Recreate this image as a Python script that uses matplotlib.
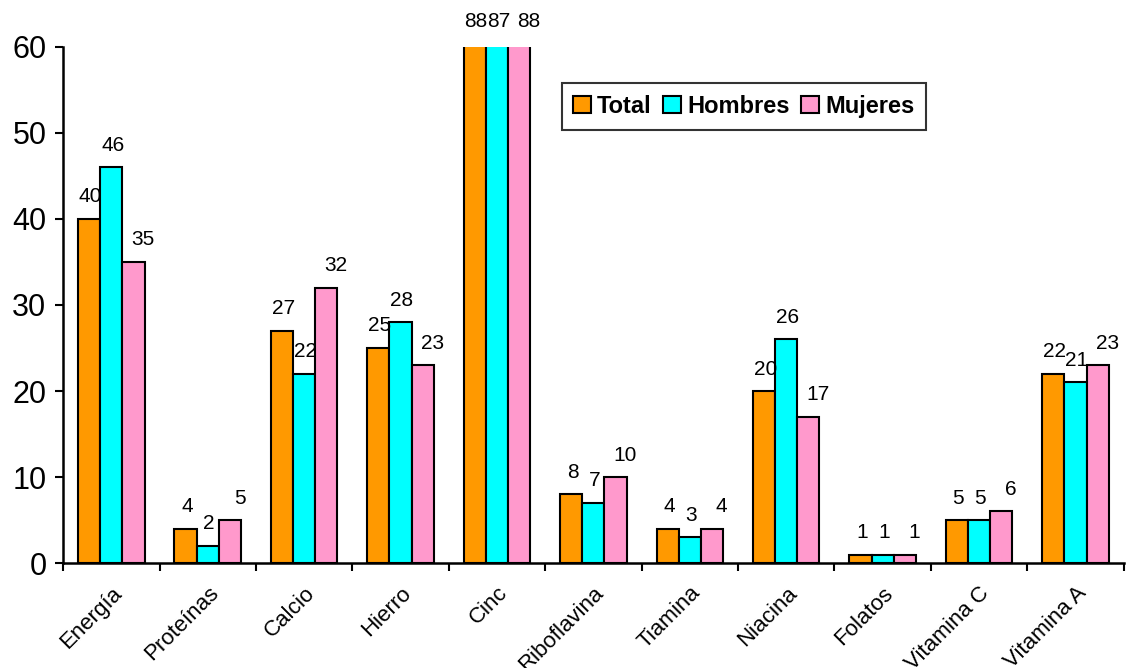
import numpy as np
import matplotlib
matplotlib.use("Agg")
import matplotlib.pyplot as plt

plt.rcParams['font.family'] = ['Liberation Sans', 'DejaVu Sans']

categories = ['Energía', 'Proteínas', 'Calcio', 'Hierro', 'Cinc', 'Riboflavina',
              'Tiamina', 'Niacina', 'Folatos', 'Vitamina C', 'Vitamina A']
total = [40, 4, 27, 25, 88, 8, 4, 20, 1, 5, 22]
hombres = [46, 2, 22, 28, 87, 7, 3, 26, 1, 5, 21]
mujeres = [35, 5, 32, 23, 88, 10, 4, 17, 1, 6, 23]
series_names = ['Total', 'Hombres', 'Mujeres']
colors = ['#FF9900', '#00FFFF', '#FF99CC']

fig = plt.figure(figsize=(11.27, 6.68), dpi=100)
ax = fig.add_axes([0.056, 0.157, 0.941, 0.773])

x = np.arange(len(categories))
w = 0.23
ymax = 60
for i, (vals, name, c) in enumerate(zip([total, hombres, mujeres], series_names, colors)):
    pos = x + (i - 1) * w
    ax.bar(pos, vals, w, color=c, edgecolor='black', linewidth=1.5, label=name)
    for p, v in zip(pos, vals):
        ax.annotate(str(v), (p, min(v, ymax)), xytext=(1 if i < 2 else 7, 11 if v > ymax else 9),
                    textcoords='offset points', ha='center', va='bottom',
                    fontsize=15, annotation_clip=False)

ax.set_ylim(0, ymax)
ax.set_xlim(-0.5, len(categories) - 0.5)
ax.set_yticks(range(0, 61, 10))
ax.tick_params(axis='y', labelsize=22, length=6, width=1.5, direction='out', pad=6)
ax.set_xticks(x)
ax.set_xticklabels(categories, rotation=45, ha='right', rotation_mode='anchor', fontsize=16)
ax.tick_params(axis='x', length=0, pad=14)
ax.set_xticks(np.arange(-0.5, len(categories)), minor=True)
ax.tick_params(axis='x', which='minor', length=6, width=1.5, direction='out')

for s in ['top', 'right']:
    ax.spines[s].set_visible(False)
for s in ['left', 'bottom']:
    ax.spines[s].set_linewidth(1.8)

leg = ax.legend(loc='upper left', bbox_to_anchor=(0.47, 0.93), ncol=3, frameon=True,
                fancybox=False, edgecolor='black', handlelength=0.75, handleheight=0.75,
                handletextpad=0.25, columnspacing=0.5, borderpad=0.5, borderaxespad=0,
                prop={'weight': 'bold', 'size': 17})
leg.get_frame().set_linewidth(1.5)

fig.savefig('out.png', dpi=100)
